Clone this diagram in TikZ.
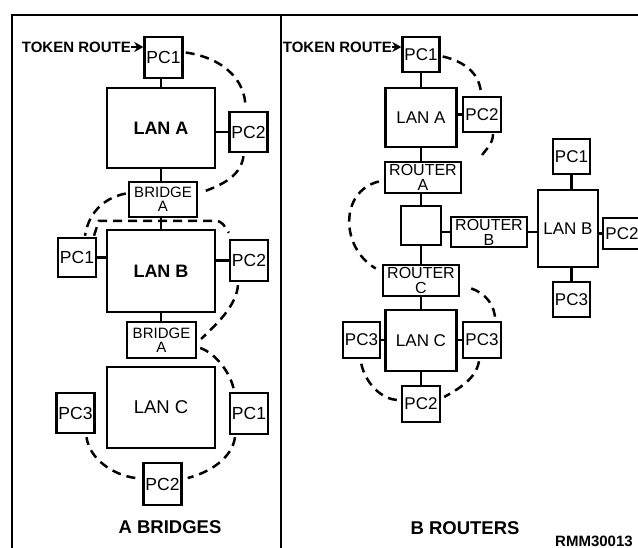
\documentclass[tikz,border=0pt]{standalone}
\usepackage{fontspec}
\setmainfont{Liberation Sans}
\usetikzlibrary{arrows.meta,calc}
\begin{document}
\begin{tikzpicture}[x=1pt,y=-1pt,
  box/.style={draw,line width=2.4pt,inner sep=0pt,font=\fontsize{17.5}{17.5}\selectfont},
  pc/.style={box,minimum width=38pt,minimum height=40pt},
  rpc/.style={box,minimum width=37pt,minimum height=35pt,font=\fontsize{17}{17}\selectfont},
  lan/.style={box,minimum width=108pt,minimum height=81pt,font=\bfseries\fontsize{18}{18}\selectfont},
  rlan/.style={box,minimum width=71pt,minimum height=60pt,font=\fontsize{17}{17}\selectfont},
  bridge/.style={box,minimum width=68pt,minimum height=35pt,align=center,font=\fontsize{15}{14}\selectfont},
  router/.style={box,minimum width=76pt,minimum height=31pt,align=center,font=\fontsize{16}{15}\selectfont},
  link/.style={line width=2.2pt},
  tok/.style={line width=2.5pt,dash pattern=on 9pt off 6pt},
  label/.style={inner sep=0pt,font=\bfseries\fontsize{15}{15}\selectfont},
  caption/.style={inner sep=0pt,font=\bfseries\fontsize{18.5}{18}\selectfont},
  tokarrow/.style={line width=2.2pt,-{Stealth[length=9pt,width=10pt]}}
]
\useasboundingbox (0,0) rectangle (638,548);
\clip (0,0) rectangle (638,548);
\fill[white] (0,0) rectangle (638,548);

% frame
\draw[line width=2.6pt] (12,15) rectangle (660,570);
\draw[line width=2.6pt] (281,15) -- (281,570);

% ---------------- A BRIDGES ----------------
\node[pc,minimum height=41pt] (lPC1) at (163.5,57.5) {PC1};
\node[lan,minimum height=80pt] (lLANA) at (161,128) {LAN A};
\node[pc] (lPC2a) at (248.5,132) {PC2};
\node[bridge] (lBRa) at (163,199.5) {BRIDGE\\A};
\node[lan,minimum height=82pt] (lLANB) at (161,271) {LAN B};
\node[pc,minimum height=39pt] (lPC1b) at (77,257.5) {PC1};
\node[pc,minimum height=41pt] (lPC2b) at (249,260.5) {PC2};
\node[bridge,minimum width=69pt,minimum height=36pt] (lBRb) at (161.5,340) {BRIDGE\\A};
\node[lan,font=\fontsize{18.5}{18}\selectfont] (lLANC) at (161,407.5) {LAN C};
\node[pc] (lPC3c) at (75.5,413) {PC3};
\node[pc,minimum height=41pt] (lPC1c) at (249,413.5) {PC1};
\node[pc,minimum height=42pt] (lPC2c) at (162.5,484) {PC2};

\node[label,anchor=east] (tokL) at (131,47) {TOKEN ROUTE};
\draw[tokarrow] (tokL.east) -- (tokL.east -| lPC1.west);

\draw[link] (lLANA.north) -- (lLANA.north |- lPC1.south);
\draw[link] (lPC2a.west) -- (lPC2a.west -| lLANA.east);
\draw[link] (lLANA.south) -- (lLANA.south |- lBRa.north);
\draw[link] (lLANB.north) -- (lLANB.north |- lBRa.south);
\draw[link] (lPC1b.east) -- (lPC1b.east -| lLANB.west);
\draw[link] (lPC2b.west) -- (lPC2b.west -| lLANB.east);
\draw[link] (lLANB.south) -- (lLANB.south |- lBRb.north);

\draw[tok] ($(lPC1.east)+(2,-5)$) .. controls +(35,5) and +(0,-30) .. ($(lPC2a.north)+(-3,-3)$);
\draw[tok] ($(lPC2a.south)+(-5,3)$) .. controls +(-3,20) and +(22,-8) .. ($(lBRa.east)+(3,-7)$);
\draw[tok] ($(lBRa.west)+(-2,-6)$) .. controls +(-25,5) and +(3,-20) .. ($(lPC1b.north)+(8,-1)$);
\draw[tok] ($(lPC1b.north)+(17,-1)$) -- ($(lLANB.north west)+(-7,-8)$) -- ($(lLANB.north east)+(-2,-8)$) .. controls +(9,0) and +(-5,-7) .. ($(lPC2b.north west)+(0,-6)$);
\draw[tok] ($(lPC2b.south)+(-11,3)$) .. controls +(-2,22) and +(14,-14) .. ($(lBRb.east)+(4,-1)$);
\draw[tok] ($(lBRb.east)+(3,8)$) .. controls +(15,5) and +(-3,-18) .. ($(lPC1c.north)+(-15,-1)$);
\draw[tok] ($(lPC1c.south)+(-14,2)$) .. controls +(-3,22) and +(20,-5) .. ($(lPC2c.east)+(5,-6)$);
\draw[tok] ($(lPC2c.west)+(-7,-6)$) .. controls +(-22,-3) and +(3,22) .. ($(lPC3c.south)+(11,3)$);

\node[caption] (capA) at (170,527) {A BRIDGES};

% ---------------- B ROUTERS ----------------
\node[rpc] (rPC1) at (421,54.5) {PC1};
\node[rlan,minimum height=59pt] (rLANA) at (421,117.5) {LAN A};
\node[rpc,minimum width=38pt] (rPC2a) at (482,114.5) {PC2};
\node[router] (rRA) at (423,177.5) {ROUTER\\A};
\node[box,minimum width=40pt,minimum height=39pt] (rMid) at (421,225.5) {};
\node[router,minimum height=30pt] (rRB) at (489,232) {ROUTER\\B};
\node[rlan,minimum width=60pt,minimum height=77pt] (rLANB) at (568,228.5) {LAN B};
\node[rpc] (rPC1b) at (571.5,156.5) {PC1};
\node[rpc,minimum width=38pt,minimum height=31pt] (rPC2b) at (622,233.5) {PC2};
\node[rpc] (rPC3b) at (571.5,299.5) {PC3};
\node[router] (rRC) at (421,280.5) {ROUTER\\C};
\node[rlan,minimum height=61pt] (rLANC) at (421,340.5) {LAN C};
\node[rpc,minimum height=36pt] (rPC3l) at (361.5,340) {PC3};
\node[rpc,minimum width=38pt,minimum height=36pt] (rPC3r) at (482,340) {PC3};
\node[rpc,minimum width=38pt,minimum height=36pt] (rPC2c) at (421,404) {PC2};

\node[label,anchor=east] (tokR) at (392,47) {TOKEN ROUTE};
\draw[tokarrow] (tokR.east) -- (tokR.east -| rPC1.west);

\draw[link] (rPC1) -- (rLANA);
\draw[link] (rPC2a.west) -- (rPC2a.west -| rLANA.east);
\draw[link] (rLANA.south) -- (rLANA.south |- rRA.north);
\draw[link] (rMid.north) -- (rMid.north |- rRA.south);
\draw[link] (rRB.west) -- (rRB.west -| rMid.east);
\draw[link] (rRB.east) -- (rRB.east -| rLANB.west);
\draw[link] (rPC1b.south) -- (rPC1b.south |- rLANB.north);
\draw[link] (rPC2b.west) -- (rPC2b.west -| rLANB.east);
\draw[link] (rPC3b.north) -- (rPC3b.north |- rLANB.south);
\draw[link] (rMid) -- (rRC);
\draw[link] (rRC) -- (rLANC);
\draw[link] (rPC3l.east) -- (rPC3l.east -| rLANC.west);
\draw[link] (rPC3r.west) -- (rPC3r.west -| rLANC.east);
\draw[link] (rLANC) -- (rPC2c);

\coordinate (rEnd) at ($(rRA.north east)+(18,-3)$);
\draw[tok] ($(rPC1.east)+(2,2)$) .. controls +(22,5) and +(0,-22) .. ($(rPC2a.north)+(-1,0)$);
\draw[tok] ($(rPC2a.south)+(11,1)$) .. controls +(0,10) and +(5,-8) .. (rEnd);
\draw[tok] ($(rRA.west)+(-5,4)$) .. controls +(-40,10) and +(-35,-20) .. ($(rRC.west)+(-6,-12)$);
\draw[tok] ($(rRC.east)+(11,8)$) .. controls +(15,5) and +(0,-15) .. ($(rPC3r.north east)+(-7,0)$);
\draw[tok] ($(rPC3r.south)+(-3,2)$) .. controls +(-3,18) and +(14,-8) .. ($(rPC2c.east)+(3,-7)$);
\draw[tok] ($(rPC2c.west)+(-4,-4)$) .. controls +(-20,-2) and +(2,18) .. ($(rPC3l.south)+(-1,0)$);

\node[caption] (capB) at (465,528) {B ROUTERS};
\node[label,anchor=base west,font=\bfseries\fontsize{15}{15}\selectfont] (code) at (555,546) {RMM30013};
\end{tikzpicture}
\end{document}
